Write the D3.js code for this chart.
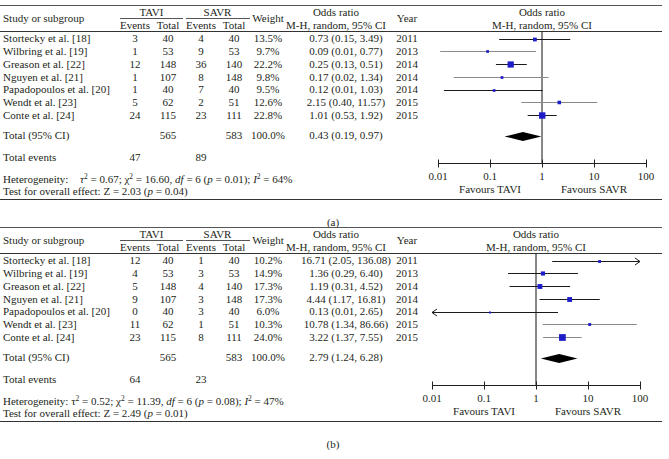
<!DOCTYPE html>
<html><head><meta charset="utf-8">
<script src="https://cdn.jsdelivr.net/npm/d3@7"></script>
<style>
html,body{margin:0;padding:0;background:#fff;}
svg{display:block;font-family:"Liberation Serif","Times New Roman",serif;font-size:11px;}
text{fill:#231f20;}
</style></head><body>
<svg id="chart" width="669" height="459"></svg>
<script>
// ---------- data ----------
const studies = ["Stortecky et al. [18]","Wilbring et al. [19]","Greason et al. [22]","Nguyen et al. [21]","Papadopoulos et al. [20]","Wendt et al. [23]","Conte et al. [24]"];
const years = [2011, 2013, 2014, 2014, 2014, 2015, 2015];
const taviTotal = [40, 53, 148, 107, 40, 62, 115];
const savrTotal = [40, 53, 140, 148, 40, 51, 111];

// panel (a)
const taviEventsA = [3, 1, 12, 1, 1, 5, 24];
const savrEventsA = [4, 9, 36, 8, 7, 2, 23];
const weightA = [13.5, 9.7, 22.2, 9.8, 9.5, 12.6, 22.8];
const orA = [0.73, 0.09, 0.25, 0.17, 0.12, 2.15, 1.01];
const lowA = [0.15, 0.011, 0.13, 0.02, 0.013, 0.40, 0.53];
const highA = [3.49, 0.77, 0.51, 1.34, 1.03, 11.57, 1.92];

// panel (b)
const taviEventsB = [12, 4, 5, 9, 0, 11, 23];
const savrEventsB = [1, 3, 4, 3, 3, 1, 8];
const weightB = [10.2, 14.9, 17.3, 17.3, 6.0, 10.3, 24.0];
const orB = [16.71, 1.36, 1.19, 4.44, 0.13, 10.78, 3.22];
const lowB = [2.05, 0.29, 0.31, 1.17, 0.007, 1.34, 1.37];
const highB = [136.08, 6.40, 4.52, 16.81, 2.65, 86.66, 7.55];

// pooled results (a, b)
const pooledTaviTotal = [565, 565];
const pooledSavrTotal = [583, 583];
const pooledWeight = [100.0, 100.0];
const pooledOR = [0.43, 2.79];
const pooledLow = [0.19, 1.24];
const pooledHigh = [0.97, 6.28];
const totalEventsTavi = [47, 64];
const totalEventsSavr = [89, 23];
const tau2 = [0.67, 0.52];
const chi2 = [16.60, 11.39];
const dfHet = [6, 6];
const pHet = [0.01, 0.08];
const i2 = [64, 47];
const zOverall = [2.03, 2.49];
const pOverall = [0.04, 0.01];
const axisTicks = [0.01, 0.1, 1, 10, 100];
const axisTickLabels = ["0.01", "0.1", "1", "10", "100"];
const panelLabels = ["(a)", "(b)"];

// ---------- styles ----------
const ciStroke = [
  ["#1a1a1a","#8a8a8a","#1a1a1a","#8a8a8a","#1a1a1a","#8a8a8a","#1a1a1a"],
  ["#1a1a1a","#1a1a1a","#1a1a1a","#1a1a1a","#1a1a1a","#8a8a8a","#8a8a8a"]
];
const BLUE = "#1c1cc8";

const svg = d3.select("#chart");
const fmt2 = v => v.toFixed(2);

function rich(sel, parts) {
  let shift = 0;
  parts.forEach(p => {
    const ts = sel.append("tspan").text(p.t);
    if (p.x !== undefined) ts.attr("x", p.x);
    if (p.it) ts.attr("font-style", "italic");
    if (p.sup) { ts.attr("dy", -4).attr("font-size", 7.5); shift = 4; }
    else if (shift) { ts.attr("dy", shift); shift = 0; }
  });
}

function drawPanel(k, top, xRange) {
  const tE = k === 0 ? taviEventsA : taviEventsB;
  const sE = k === 0 ? savrEventsA : savrEventsB;
  const w = k === 0 ? weightA : weightB;
  const or = k === 0 ? orA : orB;
  const lo = k === 0 ? lowA : lowB;
  const hi = k === 0 ? highA : highB;

  const g = svg.append("g").attr("transform", `translate(0,${top})`);
  const x = d3.scaleLog().domain([0.01, 100]).range(xRange);
  const y = d3.scalePoint().domain(studies).range([38.5, 115]);
  const size = d3.scaleLinear().domain([0, 25]).range([0, 7]);
  const col = {study: 3, tE: 135, tT: 168, sE: 201, sT: 234, w: 268, or: 346, orH: 336, year: 407};
  const yTotal = 135.5, yEvents = 157, yHet = 179, yTest = 191, yAxis = 163;

  // rules
  g.append("line").attr("x1", 0).attr("x2", 662).attr("y1", 5.5).attr("y2", 5.5).attr("stroke", "#555");
  g.append("line").attr("x1", 0).attr("x2", 662).attr("y1", 31.5).attr("y2", 31.5).attr("stroke", "#333");
  g.append("line").attr("x1", 0).attr("x2", 662).attr("y1", 199.5).attr("y2", 199.5).attr("stroke", "#333");
  g.append("line").attr("x1", 120).attr("x2", 183).attr("y1", 18.5).attr("y2", 18.5).attr("stroke", "#555");
  g.append("line").attr("x1", 186).attr("x2", 250).attr("y1", 18.5).attr("y2", 18.5).attr("stroke", "#555");

  const txt = (xx, yy, s, anchor) => g.append("text").attr("x", xx).attr("y", yy).attr("dy", "0.35em")
      .attr("text-anchor", anchor || "middle").text(s);

  // headers
  txt(col.study, 18, "Study or subgroup", "start");
  txt((col.tE + col.tT) / 2, 12, "TAVI");
  txt((col.sE + col.sT) / 2, 12, "SAVR");
  txt(col.tE, 25, "Events"); txt(col.tT, 25, "Total");
  txt(col.sE, 25, "Events"); txt(col.sT, 25, "Total");
  txt(col.w, 18, "Weight");
  txt(col.orH, 12, "Odds ratio");
  txt(col.orH, 25, "M-H, random, 95% CI");
  txt(col.year, 18, "Year");
  txt(x(1), 12, "Odds ratio");
  txt(x(1), 25, "M-H, random, 95% CI");

  // study rows
  studies.forEach((s, i) => {
    const yy = y(s);
    txt(col.study, yy, s, "start");
    txt(col.tE, yy, tE[i]);
    txt(col.tT, yy, taviTotal[i]);
    txt(col.sE, yy, sE[i]);
    txt(col.sT, yy, savrTotal[i]);
    txt(col.w, yy, w[i].toFixed(1) + "%");
    txt(col.or, yy, `${fmt2(or[i])} (${fmt2(lo[i])}, ${fmt2(hi[i])})`);
    txt(col.year, yy, years[i]);
  });

  // totals
  txt(col.study, yTotal, "Total (95% CI)", "start");
  txt(col.tT, yTotal, pooledTaviTotal[k]);
  txt(col.sT, yTotal, pooledSavrTotal[k]);
  txt(col.w, yTotal, pooledWeight[k].toFixed(1) + "%");
  txt(col.or, yTotal, `${fmt2(pooledOR[k])} (${fmt2(pooledLow[k])}, ${fmt2(pooledHigh[k])})`);
  txt(col.study, yEvents, "Total events", "start");
  txt(col.tE, yEvents, totalEventsTavi[k]);
  txt(col.sE, yEvents, totalEventsSavr[k]);

  const het = g.append("text").attr("x", col.study).attr("y", yHet).attr("dy", "0.35em");
  rich(het, [
    {t: "Heterogeneity: "},
    k === 0 ? {t: "τ", it: true, x: 80} : {t: "τ"},
    {t: "2", sup: true},
    {t: ` = ${fmt2(tau2[k])}; χ`},
    {t: "2", sup: true},
    {t: ` = ${fmt2(chi2[k])}, `},
    {t: "df", it: true},
    {t: ` = ${dfHet[k]} (`},
    {t: "p", it: true},
    {t: ` = ${fmt2(pHet[k])}); `},
    {t: "I", it: true},
    {t: "2", sup: true},
    {t: ` = ${i2[k]}%`}
  ]);
  const test = g.append("text").attr("x", col.study).attr("y", yTest).attr("dy", "0.35em");
  rich(test, [
    {t: `Test for overall effect: Z = ${fmt2(zOverall[k])} (`},
    {t: "p", it: true},
    {t: ` = ${fmt2(pOverall[k])})`}
  ]);

  // forest plot
  const [d0, d1] = x.domain();
  g.append("line").attr("x1", x(1)).attr("x2", x(1)).attr("y1", 31.5).attr("y2", yAxis)
    .attr("stroke", "#111").attr("stroke-width", 1);

  studies.forEach((s, i) => {
    const yy = Math.round(y(s)) + 0.5;
    const a = x(Math.max(lo[i], d0)), b = x(Math.min(hi[i], d1));
    g.append("line").attr("x1", a).attr("x2", b).attr("y1", yy).attr("y2", yy)
      .attr("stroke", ciStroke[k][i]).attr("stroke-width", 1);
    if (hi[i] > d1) {
      g.append("path").attr("d", `M${b - 5},${yy - 3.5}L${b},${yy}L${b - 5},${yy + 3.5}`)
        .attr("fill", "none").attr("stroke", ciStroke[k][i]);
    }
    if (lo[i] < d0) {
      g.append("path").attr("d", `M${a + 5},${yy - 3.5}L${a},${yy}L${a + 5},${yy + 3.5}`)
        .attr("fill", "none").attr("stroke", ciStroke[k][i]);
    }
    const sz = Math.max(2, size(w[i]));
    g.append("rect").attr("x", x(or[i]) - sz / 2).attr("y", yy - sz / 2)
      .attr("width", sz).attr("height", sz).attr("fill", BLUE);
  });

  // diamond
  const yd = yTotal + 1;
  g.append("path")
    .attr("d", `M${x(pooledLow[k])},${yd}L${x(pooledOR[k])},${yd - 4.5}L${x(pooledHigh[k])},${yd}L${x(pooledOR[k])},${yd + 4.5}Z`)
    .attr("fill", "#000");

  // axis
  const ax = g.append("g").attr("transform", `translate(0,${yAxis + 0.5})`);
  ax.append("line").attr("x1", x(d0)).attr("x2", x(d1)).attr("stroke", "#222");
  ax.selectAll(".tk").data(axisTicks).join("line")
    .attr("x1", d => Math.round(x(d)) + 0.5).attr("x2", d => Math.round(x(d)) + 0.5)
    .attr("y1", -4).attr("y2", 4).attr("stroke", "#222");
  ax.selectAll(".tl").data(axisTicks).join("text")
    .attr("x", d => x(d)).attr("y", 12.5).attr("dy", "0.35em").attr("text-anchor", "middle")
    .text((d, i) => axisTickLabels[i]);
  txt(x(0.1), 189, "Favours TAVI");
  txt(x(10), 189, "Favours SAVR");

  txt(333, 222, panelLabels[k]);
}

drawPanel(0, 0, [438, 646]);
drawPanel(1, 222, [432, 640]);
</script>
</body></html>
